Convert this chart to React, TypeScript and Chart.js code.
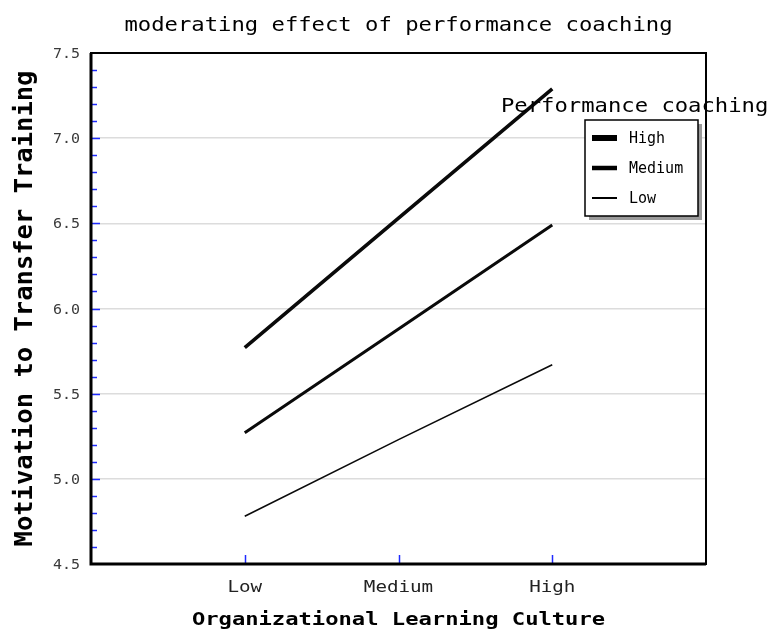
import React, { useEffect, useRef } from 'react';
import { Chart, registerables } from 'chart.js';

Chart.register(...registerables);

const categories = ['Low', 'Medium', 'High'];
const seriesNames = ['High', 'Medium', 'Low'];
const highValues = [5.77, 6.53, 7.29];
const mediumValues = [5.27, 5.88, 6.49];
const lowValues = [4.78, 5.23, 5.67];
const yTickValues = [4.5, 5.0, 5.5, 6.0, 6.5, 7.0, 7.5];
const seriesWidths = [3.6, 3, 1.6];
const legendWidths = [6, 4.5, 2];
const yMin = 4.5;
const yMax = 7.5;
const titleText = 'moderating effect of performance coaching';
const legendTitle = 'Performance coaching';
const xTitle = 'Organizational Learning Culture';
const yTitle = 'Motivation to Transfer Training';

const MONO = '"DejaVu Sans Mono", "Liberation Mono", monospace';

function drawText(
  ctx: CanvasRenderingContext2D,
  text: string,
  x: number,
  y: number,
  font: string,
  sx: number,
  align: CanvasTextAlign,
  color: string,
  rotate = 0,
) {
  ctx.save();
  ctx.translate(x, y);
  if (rotate) ctx.rotate(rotate);
  ctx.scale(sx, 1);
  ctx.font = font;
  ctx.fillStyle = color;
  ctx.textAlign = align;
  ctx.textBaseline = 'alphabetic';
  ctx.fillText(text, 0, 0);
  ctx.restore();
}

const framePlugin = {
  id: 'framePlugin',
  afterDatasetsDraw(chart: any) {
    const { ctx, chartArea } = chart;
    const { left, right, top, bottom } = chartArea;
    const ys = chart.scales.y;
    const xs = chart.scales.x;
    ctx.save();
    ctx.strokeStyle = '#1f2bff';
    ctx.lineWidth = 1.5;
    for (let i = 1; i < Math.round((yMax - yMin) * 10); i++) {
      const v = yMin + i / 10;
      const y = Math.round(ys.getPixelForValue(v)) + 0.5;
      const major = i % 5 === 0;
      ctx.beginPath();
      ctx.moveTo(left, y);
      ctx.lineTo(left + (major ? 9 : 6), y);
      ctx.stroke();
    }
    categories.forEach((_, i) => {
      const x = Math.round(xs.getPixelForValue(i + 1)) + 0.5;
      ctx.beginPath();
      ctx.moveTo(x, bottom);
      ctx.lineTo(x, bottom - 9);
      ctx.stroke();
    });
    ctx.strokeStyle = '#000';
    ctx.lineWidth = 2;
    ctx.strokeRect(left, top, right - left, bottom - top);
    ctx.lineWidth = 3;
    ctx.beginPath();
    ctx.moveTo(left, top);
    ctx.lineTo(left, bottom);
    ctx.lineTo(right, bottom);
    ctx.stroke();
    ctx.restore();
  },
  afterDraw(chart: any) {
    const { ctx, chartArea } = chart;
    const ys = chart.scales.y;
    const xs = chart.scales.x;
    const cx = (chartArea.left + chartArea.right) / 2;
    const cy = (chartArea.top + chartArea.bottom) / 2;
    // title
    drawText(ctx, titleText, cx, 31, `20px ${MONO}`, 1.11, 'center', '#000');
    // y tick labels
    yTickValues.forEach((v) => {
      drawText(ctx, v.toFixed(1), chartArea.left - 11, ys.getPixelForValue(v) + 5, `14px ${MONO}`, 1.07, 'right', '#3a3a3a');
    });
    // x tick labels
    categories.forEach((c, i) => {
      drawText(ctx, c, xs.getPixelForValue(i + 1), 592, `16px ${MONO}`, 1.2, 'center', '#222');
    });
    // axis titles
    drawText(ctx, xTitle, cx, 625, `bold 18px ${MONO}`, 1.23, 'center', '#000');
    drawText(ctx, yTitle, 32, cy, `bold 25px ${MONO}`, 1.02, 'center', '#000', -Math.PI / 2);
    // legend title
    drawText(ctx, legendTitle, 501, 112, `20px ${MONO}`, 1.11, 'left', '#000');
    // legend box
    ctx.save();
    const bx = 585, by = 120, bw = 113, bh = 96;
    ctx.fillStyle = '#9a9a9a';
    ctx.fillRect(bx + 4, by + 4, bw, bh);
    ctx.fillStyle = '#fff';
    ctx.fillRect(bx, by, bw, bh);
    ctx.strokeStyle = '#000';
    ctx.lineWidth = 1.5;
    ctx.strokeRect(bx, by, bw, bh);
    seriesNames.forEach((name, i) => {
      const y = by + 18 + i * 30;
      ctx.lineWidth = legendWidths[i];
      ctx.beginPath();
      ctx.moveTo(bx + 7, y);
      ctx.lineTo(bx + 32, y);
      ctx.stroke();
      drawText(ctx, name, bx + 44, y + 5, `15px ${MONO}`, 1.0, 'left', '#000');
    });
    ctx.restore();
  },
};

export default function App() {
  const ref = useRef<HTMLCanvasElement>(null);
  useEffect(() => {
    if (!ref.current) return;
    const toPts = (vals: number[]) => vals.map((v, i) => ({ x: i + 1, y: v }));
    const chart = new Chart(ref.current, {
      type: 'line',
      data: {
        datasets: [highValues, mediumValues, lowValues].map((vals, i) => ({
          label: seriesNames[i],
          data: toPts(vals),
          borderColor: '#0a0a0a',
          borderWidth: seriesWidths[i],
          pointRadius: 0,
          fill: false,
          tension: 0,
        })),
      },
      options: {
        responsive: false,
        animation: false,
        maintainAspectRatio: false,
        layout: { padding: { left: 0, right: 65, top: 53, bottom: 0 } },
        plugins: { legend: { display: false }, title: { display: false }, tooltip: { enabled: false } },
        scales: {
          x: {
            type: 'linear',
            min: 0,
            max: 4,
            afterFit: (s: any) => { s.height = 66; },
            grid: { display: false, drawTicks: false },
            border: { display: false },
            ticks: { display: false, stepSize: 1 },
            title: { display: false },
          },
          y: {
            type: 'linear',
            min: yMin,
            max: yMax,
            afterFit: (s: any) => { s.width = 91; },
            grid: {
              drawTicks: false,
              color: (c: any) => {
                const v = c.tick ? c.tick.value : 0;
                const m = yTickValues.some((t) => Math.abs(t - v) < 1e-6);
                return m && v > yMin && v < yMax ? '#dcdcdc' : 'rgba(0,0,0,0)';
              },
              lineWidth: 1.5,
            },
            border: { display: false },
            ticks: { display: false, stepSize: 0.5 },
            title: { display: false },
          },
        },
      },
      plugins: [framePlugin],
    });
    return () => chart.destroy();
  }, []);
  return (
    <div style={{ position: 'fixed', left: 0, top: 0, width: 771, height: 630, background: '#fff' }}>
      <canvas ref={ref} width={771} height={630} style={{ display: 'block', width: 771, height: 630 }} />
    </div>
  );
}
